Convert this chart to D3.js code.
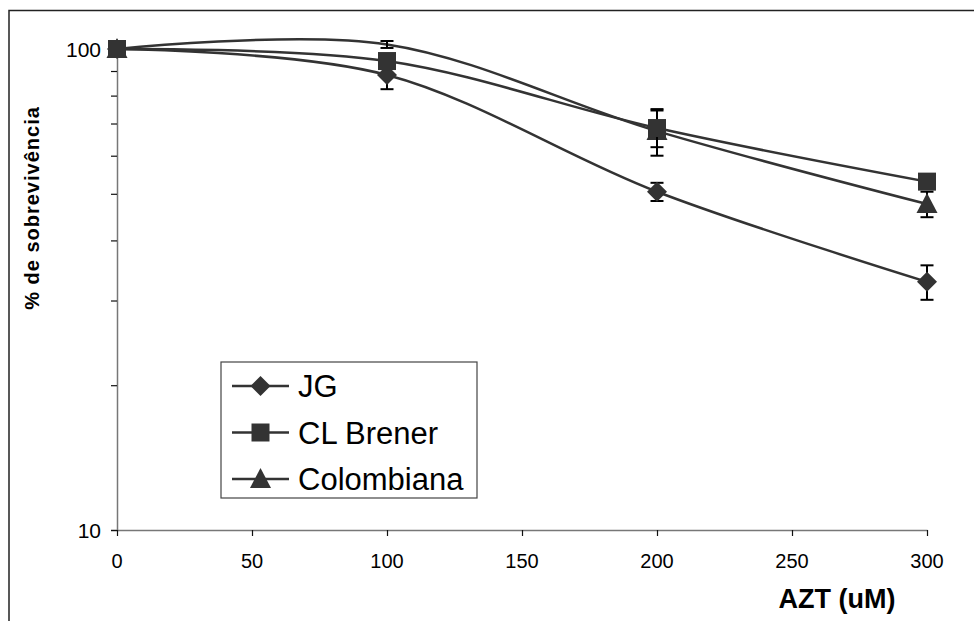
<!DOCTYPE html>
<html lang="pt">
  <head>
    <meta charset="UTF-8" />
    <title>% de sobrevivência x AZT</title>
    <script src="https://d3js.org/d3.v7.min.js"></script>
    <style>
      body {
        margin: 0;
        background: #fff;
      }
      svg text {
        font-family: "Liberation Sans", Arial, sans-serif;
        fill: #000;
      }
    </style>
  </head>
  <body>
    <div class="chart"></div>
  </body>

  <script>
    // AZT dose (uM)
    var doses = [0, 100, 200, 300];

    // survival (%) per strain, with error bars
    var jg = [100, 88.3, 50.5, 32.8];
    var jgErr = [0, 5.8, 2.2, 2.7];
    var clBrener = [100, 94.4, 68.5, 53.0];
    var clBrenerErr = [0, 3, 6, 1];
    var colombiana = [100, 102.2, 67.5, 47.6];
    var colombianaErr = [0, 1.7, 7.5, 2.9];
    // the Colombiana marker at 100 uM is not shown in the original
    var colombianaShown = [true, false, true, true];

    var xTicks = [0, 50, 100, 150, 200, 250, 300];
    var yMinor = [20, 30, 40, 50, 60, 70, 80, 90];
    var yLabels = [10, 100];

    var series = [
      { name: "JG", values: jg, err: jgErr, shape: "diamond" },
      { name: "CL Brener", values: clBrener, err: clBrenerErr, shape: "square" },
      { name: "Colombiana", values: colombiana, err: colombianaErr, shape: "triangle", shown: colombianaShown },
    ];
    // drawing order (square ends up on top)
    var drawOrder = [0, 2, 1];

    var W = 974, H = 621;
    var svg = d3.select(".chart").append("svg").attr("width", W).attr("height", H);

    var x = d3.scaleLinear().domain([0, 300]).range([117, 927]);
    var y = d3.scaleLog().domain([10, 100]).range([530, 49]);

    var ink = "#333";

    // partial frame (top + left, the rest is cropped)
    svg.append("path")
      .attr("d", "M9,621V10.5H974")
      .attr("fill", "none")
      .attr("stroke", "#222")
      .attr("stroke-width", 1.5);

    // y axis
    var yAxis = d3.axisLeft(y).tickValues(yMinor.concat(yLabels)).tickSize(6).tickFormat("");
    var gy = svg.append("g").attr("transform", "translate(" + x(0) + ",0)").call(yAxis);
    gy.select(".domain").attr("stroke", "#777").attr("stroke-width", 1.5);
    gy.selectAll(".tick line").attr("stroke", "#111").attr("stroke-width", 1.2);

    svg.selectAll(".ylab")
      .data(yLabels)
      .enter()
      .append("text")
      .attr("class", "ylab")
      .attr("x", 101)
      .attr("y", function (d) { return y(d) + 7.5; })
      .attr("text-anchor", "end")
      .style("font-size", "21px")
      .text(function (d) { return d; });

    // x axis
    var xAxis = d3.axisBottom(x).tickValues(xTicks).tickSize(6).tickSizeOuter(0).tickFormat("");
    var gx = svg.append("g").attr("transform", "translate(0," + y(10) + ")").call(xAxis);
    gx.select(".domain").attr("stroke", "#777").attr("stroke-width", 1.5);
    gx.selectAll(".tick line").attr("stroke", "#111").attr("stroke-width", 1.2);

    svg.selectAll(".xlab")
      .data(xTicks)
      .enter()
      .append("text")
      .attr("class", "xlab")
      .attr("x", function (d) { return x(d); })
      .attr("y", 568)
      .attr("text-anchor", "middle")
      .style("font-size", "20px")
      .text(function (d) { return d; });

    svg.append("text")
      .attr("x", 837)
      .attr("y", 608)
      .attr("text-anchor", "middle")
      .style("font-size", "27px")
      .style("font-weight", "bold")
      .text("AZT (uM)");

    svg.append("text")
      .attr("transform", "translate(39,208) rotate(-90)")
      .attr("text-anchor", "middle")
      .style("font-size", "20px")
      .style("font-weight", "bold")
      .style("letter-spacing", "1px")
      .text("% de sobrevivência");

    // markers
    function markerPath(shape) {
      if (shape === "diamond") return "M0,-10L10,0L0,10L-10,0Z";
      if (shape === "square") return "M-9,-9H9V9H-9Z";
      return "M0,-11L10.5,9L-10.5,9Z";
    }

    var line = d3.line()
      .x(function (d, i) { return x(doses[i]); })
      .y(function (d) { return y(d); })
      .curve(d3.curveCardinal.tension(0));

    // lines
    svg.selectAll(".series-line")
      .data(series)
      .enter()
      .append("path")
      .attr("class", "series-line")
      .attr("fill", "none")
      .attr("stroke", ink)
      .attr("stroke-width", 2.5)
      .attr("d", function (s) { return line(s.values); });

    drawOrder.forEach(function (k) {
      var s = series[k];
      var g = svg.append("g");
      doses.forEach(function (dose, i) {
        var e = s.err[i];
        if (e > 0) {
          var cx = x(dose);
          var y1 = y(s.values[i] + e), y2 = y(s.values[i] - e);
          g.append("line").attr("x1", cx).attr("x2", cx).attr("y1", y1).attr("y2", y2)
            .attr("stroke", "#000").attr("stroke-width", 2);
          [y1, y2].forEach(function (yy) {
            g.append("line").attr("x1", cx - 6.5).attr("x2", cx + 6.5).attr("y1", yy).attr("y2", yy)
              .attr("stroke", "#000").attr("stroke-width", 2);
          });
        }
      });
      g.selectAll("path")
        .data(s.values.filter(function (v, i) { return !s.shown || s.shown[i]; }))
        .enter()
        .append("path")
        .attr("d", markerPath(s.shape))
        .attr("fill", ink)
        .attr("transform", function (v) {
          var i = s.values.indexOf(v);
          return "translate(" + x(doses[i]) + "," + y(v) + ")";
        });
    });

    // legend
    var legend = svg.append("g").attr("transform", "translate(221,362)");
    legend.append("rect")
      .attr("width", 256)
      .attr("height", 136)
      .attr("fill", "#fff")
      .attr("stroke", "#444")
      .attr("stroke-width", 1.2);

    var item = legend.selectAll(".item")
      .data(series)
      .enter()
      .append("g")
      .attr("class", "item")
      .attr("transform", function (d, i) { return "translate(0," + (24 + i * 46.5) + ")"; });
    item.append("line")
      .attr("x1", 11).attr("x2", 68)
      .attr("stroke", ink).attr("stroke-width", 2.5);
    item.append("path")
      .attr("d", function (d) { return markerPath(d.shape); })
      .attr("fill", ink)
      .attr("transform", "translate(39.5,0)");
    item.append("text")
      .attr("x", 77)
      .attr("y", 11)
      .style("font-size", "31px")
      .text(function (d) { return d.name; });
  </script>
</html>
